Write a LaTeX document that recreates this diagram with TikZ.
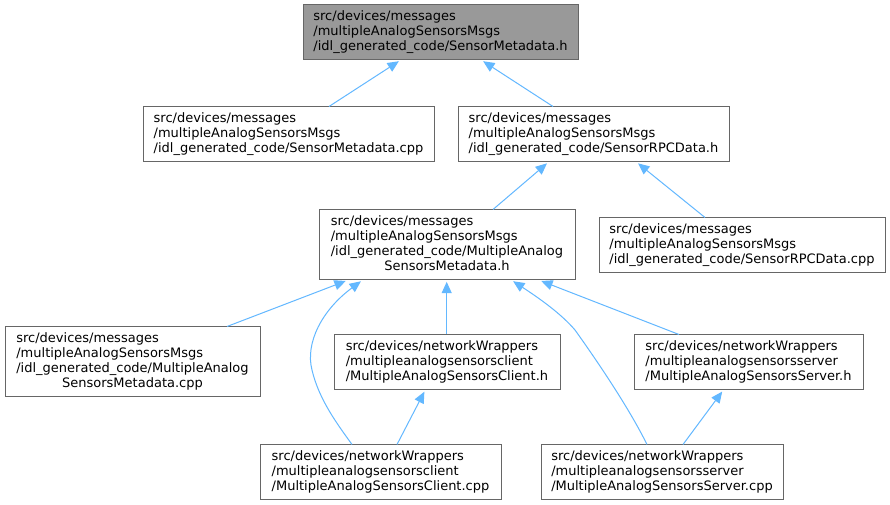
\documentclass[tikz,border=0pt]{standalone}
\usepackage{fontspec}
\setmainfont{DejaVu Sans}
\usetikzlibrary{arrows.meta,calc}
\definecolor{edgeblue}{HTML}{63B8FF}
\definecolor{boxline}{HTML}{666666}
\definecolor{boxfill}{HTML}{999999}
\newcommand\ltab[1]{\begin{tabular}{@{}l@{}}#1\end{tabular}}
\newcommand\clast[1]{\multicolumn{1}{@{}c@{}}{#1}}
\begin{document}
\begin{tikzpicture}[x=0.75pt,y=-0.75pt,
  filebox/.style={draw=boxline,line width=0.75pt,rectangle,inner sep=0pt,
    minimum height=55*0.75pt,font=\fontsize{9.75pt}{11.25pt}\selectfont},
  edge/.style={draw=edgeblue,line width=0.75pt,shorten <=1pt,
    {Triangle[length=8.5pt,width=7.5pt,fill=edgeblue]}-}]
\useasboundingbox (0,0) rectangle (890,505);
\fill[white] (0,0) rectangle (890,505);
\node[filebox,fill=boxfill,minimum width=275*0.75pt] (b0) at (440.5,32.5)
  {\ltab{src/devices/messages\\/multipleAnalogSensorsMsgs\\/idl\_generated\_code/SensorMetadata.h}};
\node[filebox,minimum width=291*0.75pt] (b1) at (288.5,134.5)
  {\ltab{src/devices/messages\\/multipleAnalogSensorsMsgs\\/idl\_generated\_code/SensorMetadata.cpp}};
\node[filebox,minimum width=271*0.75pt] (b2) at (593.5,134.5)
  {\ltab{src/devices/messages\\/multipleAnalogSensorsMsgs\\/idl\_generated\_code/SensorRPCData.h}};
\node[filebox,minimum width=256*0.75pt,minimum height=70*0.75pt] (b3) at (447,245)
  {\ltab{src/devices/messages\\/multipleAnalogSensorsMsgs\\/idl\_generated\_code/MultipleAnalog\\\clast{SensorsMetadata.h}}};
\node[filebox,minimum width=286*0.75pt] (b4) at (742,245.5)
  {\ltab{src/devices/messages\\/multipleAnalogSensorsMsgs\\/idl\_generated\_code/SensorRPCData.cpp}};
\node[filebox,minimum width=255*0.75pt,minimum height=70*0.75pt] (b5) at (132.5,362)
  {\ltab{src/devices/messages\\/multipleAnalogSensorsMsgs\\/idl\_generated\_code/MultipleAnalog\\\clast{SensorsMetadata.cpp}}};
\node[filebox,minimum width=226*0.75pt] (b6) at (447,362.5)
  {\ltab{src/devices/networkWrappers\\/multipleanalogsensorsclient\\/MultipleAnalogSensorsClient.h}};
\node[filebox,minimum width=229*0.75pt] (b7) at (748.5,362.5)
  {\ltab{src/devices/networkWrappers\\/multipleanalogsensorsserver\\/MultipleAnalogSensorsServer.h}};
\node[filebox,minimum width=241*0.75pt] (b8) at (380.5,472.5)
  {\ltab{src/devices/networkWrappers\\/multipleanalogsensorsclient\\/MultipleAnalogSensorsClient.cpp}};
\node[filebox,minimum width=242*0.75pt] (b9) at (662,472.5)
  {\ltab{src/devices/networkWrappers\\/multipleanalogsensorsserver\\/MultipleAnalogSensorsServer.cpp}};
% edges
\draw[edge] ($(b0.south)+(-40.5,0)$) -- ($(b1.north)+(40.5,0)$);
\draw[edge] ($(b0.south)+(41.5,0)$) -- ($(b2.north)+(-40.5,0)$);
\draw[edge] ($(b2.south)+(-45.5,0)$) -- ($(b3.north)+(46,0)$);
\draw[edge] ($(b2.south)+(43.5,0)$) -- ($(b4.north)+(-37,0)$);
\draw[edge] ($(b3.south)+(-100,0)$) -- ($(b5.north)+(94.5,0)$);
\draw[edge] ($(b3.south)+(-0.3,0)$) -- ($(b6.north)+(-0.3,0)$);
\draw[edge] ($(b3.south)+(93,0)$) -- ($(b7.north)+(-69.5,0)$);
\draw[edge] ($(b3.south)+(-85,0)$) .. controls (322,310) and (305,343) .. (312,370)
  .. controls (319,400) and (338,425) .. ($(b8.north)+(-28.5,0)$);
\draw[edge] ($(b3.south)+(65,0)$) .. controls (545,302) and (563,316) .. (575,330)
  .. controls (600,365) and (630,410) .. ($(b9.north)+(-15,0)$);
\draw[edge] ($(b6.south)+(-22,0)$) -- ($(b8.north)+(16.5,0)$);
\draw[edge] ($(b7.south)+(-25.5,0)$) -- ($(b9.north)+(21,0)$);
\end{tikzpicture}
\end{document}
